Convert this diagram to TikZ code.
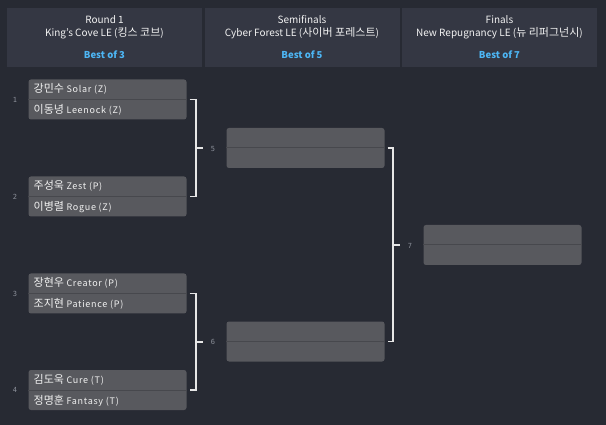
\documentclass[tikz,border=0pt]{standalone}
\usepackage{fontspec}
\setmainfont{Noto Sans CJK KR}
\newfontfamily\numfont{DejaVu Sans Mono}
\newfontfamily\engfont[LetterSpace=8]{Noto Sans CJK KR}
\newcommand\engsz{\engfont\fontsize{9}{11}\selectfont}
\newcommand\korhd{\fontsize{11}{12}\selectfont}
\definecolor{bgc}{HTML}{272A33}
\definecolor{hdr}{HTML}{343743}
\definecolor{boxc}{HTML}{58595E}
\definecolor{divc}{HTML}{47484D}
\definecolor{txt}{HTML}{F2F2F2}
\definecolor{bestc}{HTML}{4DB6F5}
\definecolor{numc}{HTML}{8C909A}
\definecolor{linec}{HTML}{E6E6E6}
\tikzset{
  hdrbox/.style={fill=hdr, draw=none, minimum width=195pt, minimum height=59pt, inner sep=0pt},
  hdrtxt/.style={text=txt, anchor=base, font=\fontsize{10}{12}\selectfont, inner sep=0pt},
  besttxt/.style={text=bestc, anchor=base, font=\bfseries\fontsize{9.5}{11}\selectfont, inner sep=0pt},
  matchbox/.style={fill=boxc, draw=none, rounded corners=2.5pt, minimum width=158pt, minimum height=40pt, inner sep=0pt},
  divline/.style={draw=divc, line width=1pt},
  pname/.style={text=txt, anchor=base west, inner sep=0pt, font=\fontsize{11}{13}\selectfont},
  numlbl/.style={text=numc, font=\numfont\fontsize{7}{8}\selectfont, inner sep=0pt},
  conn/.style={draw=linec, line width=1.6pt}
}
\begin{document}
\begin{tikzpicture}[x=1pt,y=-1pt]
\fill[bgc] (0,0) rectangle (606,425);
\useasboundingbox (0,0) rectangle (606,425);
% headers
\node[hdrbox] (h1) at (104.5,37.5) {};
\node[hdrbox] (h2) at (302,37.5) {};
\node[hdrbox] (h3) at (499.5,37.5) {};
\node[hdrtxt] (h1a) at (104.5,23.5) {Round 1};
\node[hdrtxt] (h1b) at (104.5,37) {King's Cove LE ({\korhd 킹스 코브})};
\node[besttxt] (h1c) at (104.5,59) {Best of 3};
\node[hdrtxt] (h2a) at (302,23.5) {Semifinals};
\node[hdrtxt] (h2b) at (302,37) {Cyber Forest LE ({\korhd 사이버 포레스트})};
\node[besttxt] (h2c) at (302,59) {Best of 5};
\node[hdrtxt] (h3a) at (499.5,23.5) {Finals};
\node[hdrtxt] (h3b) at (499.5,37) {New Repugnancy LE ({\korhd 뉴 리퍼그넌시})};
\node[besttxt] (h3c) at (499.5,59) {Best of 7};
% match boxes
\node[matchbox] (m1) at (107.5,99.5) {};
\node[matchbox] (m2) at (107.5,196.5) {};
\node[matchbox] (m3) at (107.5,293.5) {};
\node[matchbox] (m4) at (107.5,390) {};
\node[matchbox] (m5) at (305.5,148) {};
\node[matchbox] (m6) at (305.5,341.5) {};
\node[matchbox] (m7) at (502.5,245) {};
\foreach \m in {m1,m2,m3,m4,m5,m6,m7}{
  \draw[divline] (\m.west) -- (\m.east);
}
% player names
\node[pname] (p1a) at (33.5,92.7) {강민수 {\engsz Solar (Z)}};
\node[pname] (p1b) at (33.5,113.5) {이동녕 {\engsz Leenock (Z)}};
\node[pname] (p2a) at (33.5,189.7) {주성욱 {\engsz Zest (P)}};
\node[pname] (p2b) at (33.5,210.5) {이병렬 {\engsz Rogue (Z)}};
\node[pname] (p3a) at (33.5,286.7) {장현우 {\engsz Creator (P)}};
\node[pname] (p3b) at (33.5,307.5) {조지현 {\engsz Patience (P)}};
\node[pname] (p4a) at (33.5,383.2) {김도욱 {\engsz Cure (T)}};
\node[pname] (p4b) at (33.5,404) {정명훈 {\engsz Fantasy (T)}};
% match numbers
\node[numlbl] (n1) at (15,100) {1};
\node[numlbl] (n2) at (15,197) {2};
\node[numlbl] (n3) at (15,294) {3};
\node[numlbl] (n4) at (15,390) {4};
\node[numlbl] (n5) at (213,149) {5};
\node[numlbl] (n6) at (213,342) {6};
\node[numlbl] (n7) at (410,245.5) {7};
% connectors
\coordinate (j5) at (196,148);
\coordinate (j6) at (196,342);
\coordinate (j7) at (393,245);
\draw[conn] ([xshift=3pt]m1.east) -| (j5) |- ([xshift=3pt]m2.east);
\draw[conn] (j5) -- ++(7,0);
\draw[conn] ([xshift=3pt]m3.east) -| (j6) |- ([xshift=3pt]m4.east);
\draw[conn] (j6) -- ++(7,0);
\draw[conn] ([xshift=3pt]m5.east) -| (j7) |- ([xshift=3pt]m6.east);
\draw[conn] (j7) -- ++(7,0);
\end{tikzpicture}
\end{document}
